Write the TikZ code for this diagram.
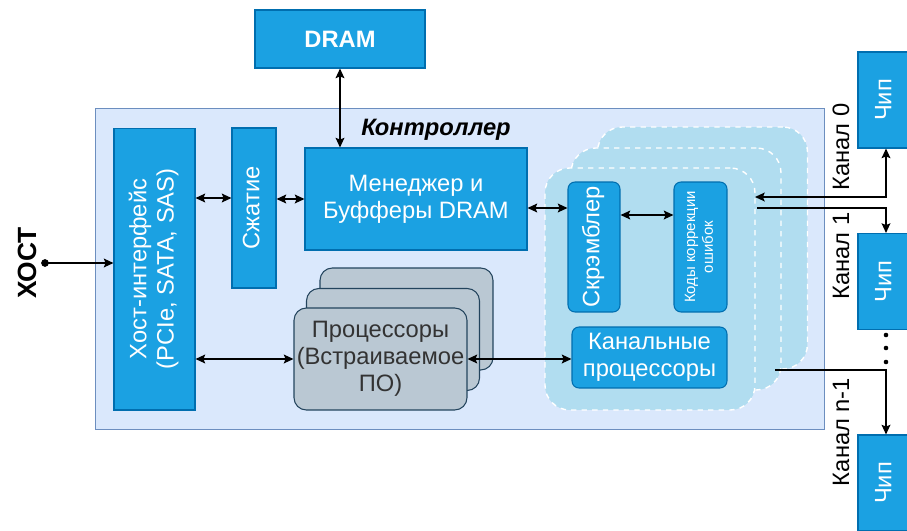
\documentclass[tikz,border=0pt]{standalone}
\usepackage{fontspec}
\setmainfont{Liberation Sans}
\usetikzlibrary{arrows.meta}
\definecolor{boxblue}{HTML}{1BA1E2}
\definecolor{boxedge}{HTML}{006EAF}
\definecolor{ctrlfill}{HTML}{DAE8FC}
\definecolor{ctrledge}{HTML}{6C8EBF}
\definecolor{chfill}{HTML}{B1DDF0}
\definecolor{cpufill}{HTML}{BAC8D3}
\definecolor{cpuedge}{HTML}{23445D}
\newcommand{\vlabel}[1]{\rotatebox{90}{\begin{tabular}{@{}c@{}}#1\end{tabular}}}

\begin{document}
\begin{tikzpicture}[x=0.02cm,y=-0.02cm,
        font=\fontsize{13.5}{15.5}\selectfont,
        >={Stealth[length=5.5pt,width=5pt,inset=1pt]},
        blk/.style={draw=boxedge,fill=boxblue,text=white,inner sep=0pt,line width=0.6pt},
        rblk/.style={blk,rounded corners=4pt},
        cpubox/.style={draw=cpuedge,fill=cpufill,text=black!80,rounded corners=7pt,minimum width=3.46cm,minimum height=2.04cm,align=center,inner sep=0pt,line width=0.6pt},
        chgrp/.style={fill=chfill,draw=white,dash pattern=on 3pt off 3pt,line width=0.8pt,rounded corners=14pt,minimum width=4.2cm,minimum height=4.84cm},
        biarrow/.style={<->,line width=0.8pt},
        arr/.style={->,line width=0.8pt}]
        \useasboundingbox (0,0) rectangle (907,531);
        \clip (0,0) rectangle (907,531);
        % controller frame
        \node[draw=ctrledge,fill=ctrlfill,minimum width=14.6cm,minimum height=6.44cm,line width=0.6pt] (ctrl) at (460,269) {};
        \node[font=\fontsize{13.5}{15.5}\selectfont\bfseries\itshape] (ctrllbl) at (436,130) {Контроллер};
        \node[blk,minimum width=3.4cm,minimum height=1.16cm,font=\fontsize{13.5}{15.5}\selectfont\bfseries] (dram) at (340,39) {DRAM};
        \node[blk,minimum width=1.62cm,minimum height=5.64cm] (hostif) at (154.5,269) {\vlabel{Хост-интерфейс\\(PCIe, SATA, SAS)}};
        \node[blk,minimum width=0.88cm,minimum height=3.2cm] (comp) at (254,208) {\vlabel{Сжатие}};
        \node[blk,minimum width=4.44cm,minimum height=2.04cm,align=center] (mgr) at (416,199) {Менеджер и\\Буфферы DRAM};
        % processors
        \node[cpubox] (cpuc) at (406.5,319) {};
        \node[cpubox] (cpub) at (393,339.5) {};
        \node[cpubox] (cpu) at (380.5,359) {Процессоры\\(Встраиваемое\\ПО)};
        % channels
        \node[chgrp] (chc) at (702.5,248) {};
        \node[chgrp] (chb) at (676,269) {};
        \node[chgrp] (cha) at (650,289) {};
        \node[rblk,minimum width=1.04cm,minimum height=2.6cm] (scr) at (594,247) {\vlabel{Скрэмблер}};
        \node[rblk,minimum width=1.06cm,minimum height=2.6cm,font=\fontsize{8.5}{10}\selectfont] (ecc) at (700.5,247) {\vlabel{Коды коррекции\\ошибок}};
        \node[rblk,minimum width=3.1cm,minimum height=1.22cm,align=center] (chp) at (649.5,357.5) {Канальные\\процессоры};
        % chips
        \node[blk,minimum width=1.12cm,minimum height=1.92cm] (chip0) at (886,100) {\vlabel{Чип}};
        \node[blk,minimum width=1.12cm,minimum height=1.92cm] (chip1) at (886,281.5) {\vlabel{Чип}};
        \node[blk,minimum width=1.12cm,minimum height=1.92cm] (chipn) at (886,483) {\vlabel{Чип}};
        \node[rotate=90] (lbl0) at (841,147) {Канал 0};
        \node[rotate=90] (lbl1) at (841,256) {Канал 1};
        \node[rotate=90] (lbln) at (841,432) {Канал n-1};
        \node[rotate=90,font=\fontsize{15}{17}\selectfont\bfseries] (host) at (27,263) {ХОСТ};
        % connectors
        \coordinate (hostpt) at (45,263);
        \fill (hostpt) circle (2.2pt);
        \draw[arr] (hostpt) -- (hostpt -| hostif.west);
        \coordinate (c1) at ([yshift=0.2cm]comp.west);
        \draw[biarrow] (c1 -| hostif.east) -- (c1);
        \draw[biarrow] (mgr.west -| comp.east) -- (mgr.west);
        \draw[biarrow] (dram.south) -- (dram.south |- mgr.north);
        \coordinate (c2) at ([yshift=-0.18cm]mgr.east);
        \draw[biarrow] (c2) -- (c2 -| scr.west);
        \coordinate (c3) at ([yshift=0.64cm]scr.east);
        \draw[biarrow] (c3) -- (c3 -| ecc.west);
        \draw[biarrow] (cpu.west -| hostif.east) -- (cpu.west);
        \draw[biarrow] (cpu.east) -- (cpu.east -| chp.west);
        \coordinate (ch0) at (755,197);
        \coordinate (ch1) at (757,208);
        \coordinate (chn) at (775,370);
        \draw[biarrow] (ch0) -| (chip0.south);
        \draw[arr] (ch1) -| (chip1.north);
        \draw[arr] (chn) -| (chipn.north);
        \foreach \y in {335,348,362} \fill (886,\y) circle (1.3pt);
\end{tikzpicture}
\end{document}
